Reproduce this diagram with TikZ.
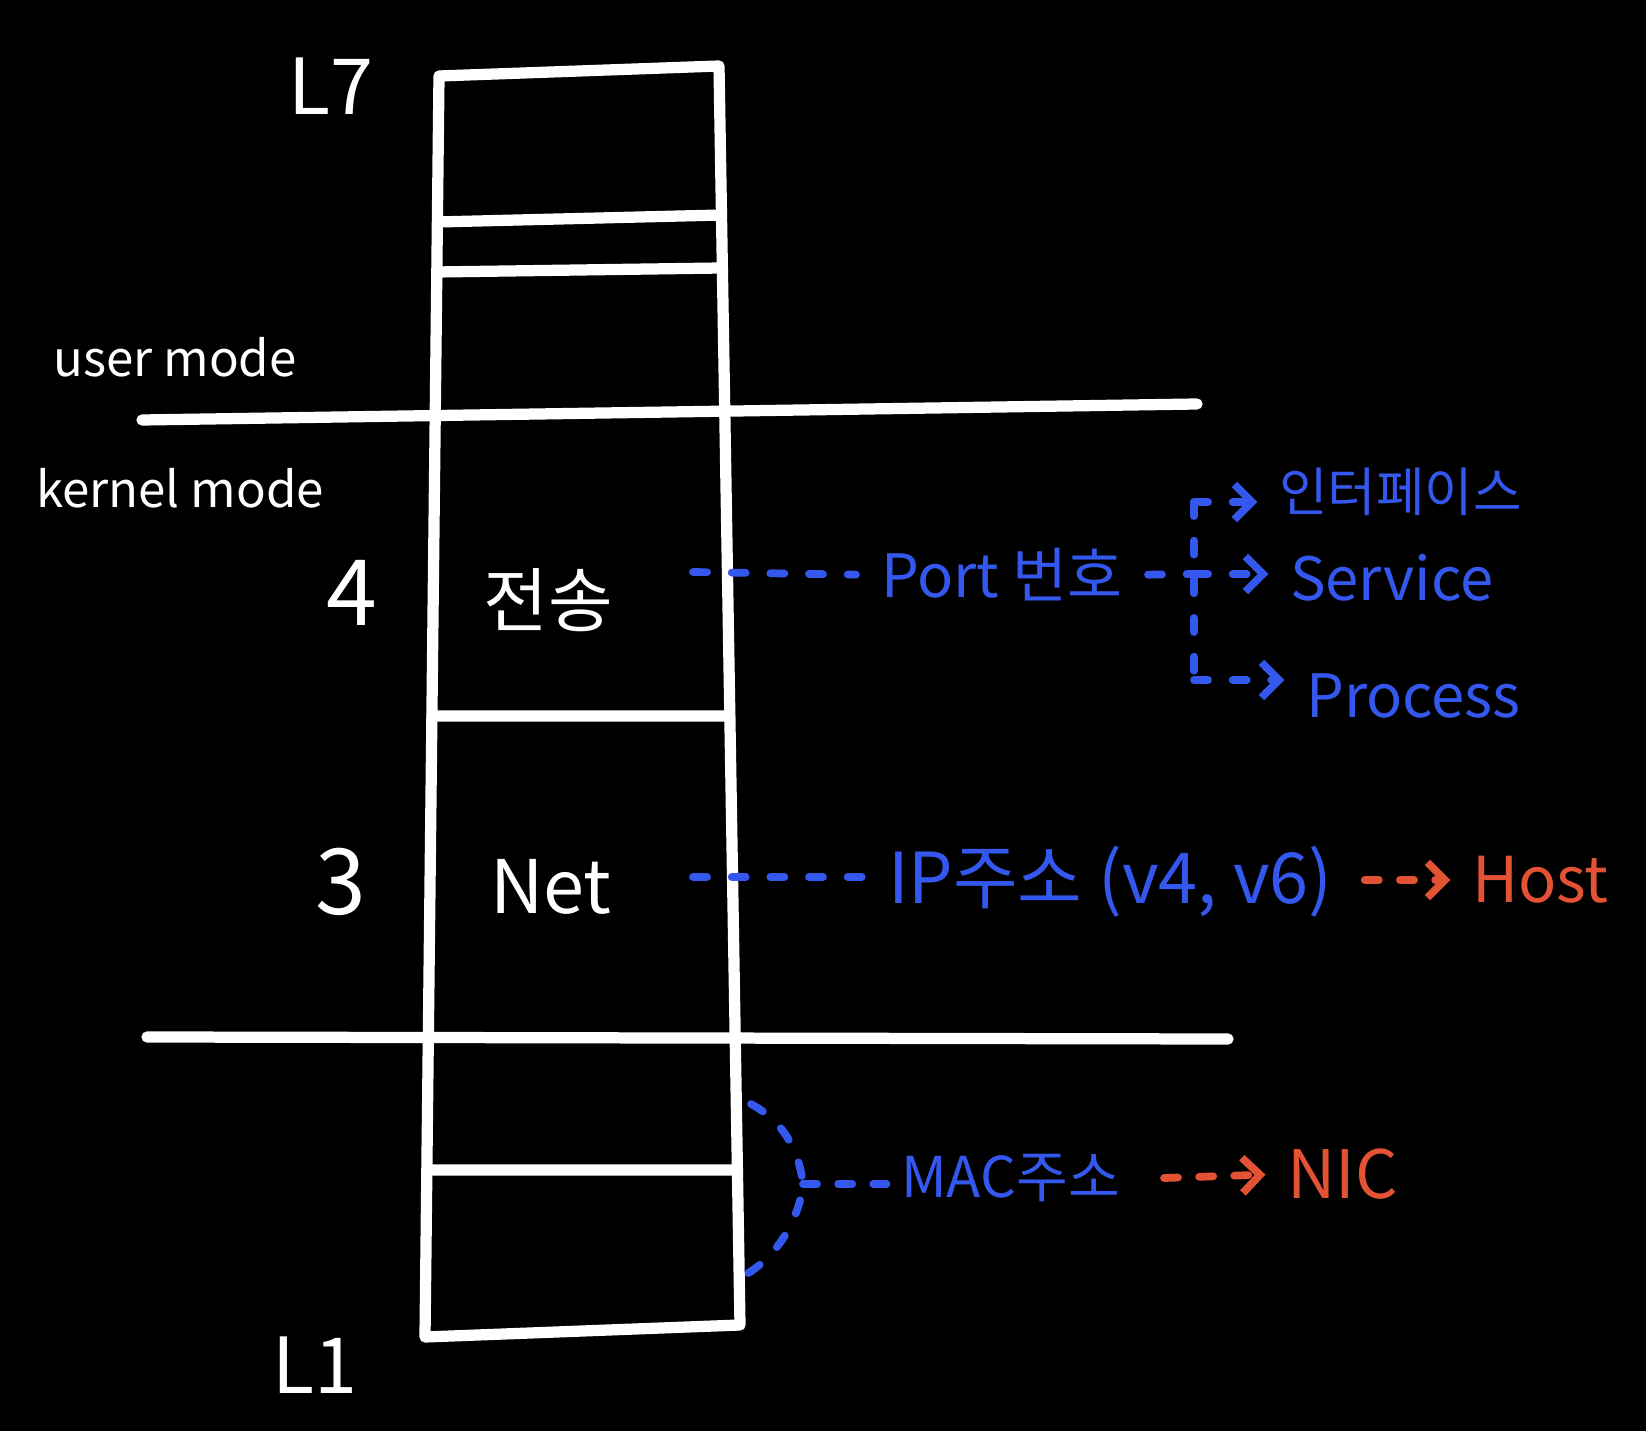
\documentclass[tikz,border=0pt]{standalone}
\usepackage{fontspec}
\setmainfont{Noto Sans CJK KR}
\usetikzlibrary{arrows.meta, positioning, calc}

\definecolor{chalkblue}{RGB}{52,88,238}
\definecolor{chalkred}{RGB}{228,82,52}

\tikzset{
  chalk/.style={white, line width=3.2pt, line cap=round, line join=round},
  whitelbl/.style={text=white, inner sep=1pt},
  bluelbl/.style={text=chalkblue, inner sep=1pt, anchor=west},
  redlbl/.style={text=chalkred, inner sep=1pt, anchor=west},
  bluedash/.style={chalkblue, line width=2.2pt, line cap=round, dash pattern=on 4pt off 7pt},
  reddash/.style={chalkred, line width=2.2pt, line cap=round, dash pattern=on 4pt off 6pt},
  barb/.style={-{Straight Barb[length=5pt, width=10pt, line width=2.2pt]}, shorten >=5pt},
}
\newcommand{\fs}[1]{\fontsize{#1}{#1}\selectfont}

\begin{document}
\begin{tikzpicture}[x=0.1mm, y=-0.1mm]
  \useasboundingbox (0,0) rectangle (1646,1431);
  \fill[black] (0,0) rectangle (1646,1431);

  % Layer stack
  \coordinate (tl) at (439,76);
  \coordinate (tr) at (719,66);
  \coordinate (br) at (740,1325);
  \coordinate (bl) at (425,1337);
  \draw[chalk] (tl) -- (tr) -- (br) -- (bl) -- cycle;

  % Layer borders
  \foreach \yl/\yr in {222/215, 272/268, 716/716, 1170/1170} {
    \draw[chalk] ($(tl)!{(\yl-76)/1261}!(bl)$) -- ($(tr)!{(\yr-66)/1259}!(br)$);
  }

  % Mode borders
  \draw[chalk] (142,420) -- (1197,404);
  \draw[chalk] (147,1037) -- (1228,1039);

  % White labels
  \node[whitelbl, font=\fs{22}] (top) at (331,86) {L7};
  \node[whitelbl, font=\fs{22}] (bottom) at (315,1365) {L1};
  \node[whitelbl, font=\fs{14}] (user) at (175,357) {user mode};
  \node[whitelbl, font=\fs{14}] (kernel) at (180,488) {kernel mode};
  \node[whitelbl, font=\fs{26}] (four) at (352,593) {4};
  \node[whitelbl, font=\fs{26}] (three) at (341,882) {3};
  \node[whitelbl, font=\fs{20}] (transport) at (548,600) {전송};
  \node[whitelbl, font=\fs{21}] (net) at (551,887) {Net};

  % Transport layer
  \coordinate (p4) at (693,572);
  \node[bluelbl, font=\fs{17}] (port) at (877,575) {Port 번호};
  \draw[bluedash, shorten >=6pt] (p4) -- (port.west);
  \coordinate (fork) at (1194,574);
  \coordinate (forktop) at (1194,502);
  \coordinate (forkbot) at (1194,680);
  \draw[bluedash, shorten <=6pt] (port.east) -- (fork);
  \draw[bluedash] (forktop) -- (forkbot);
  \node[bluelbl, font=\fs{15}] (iface) at (1275,492) {인터페이스};
  \node[bluelbl, font=\fs{17}] (service) at (1286,578) {Service};
  \node[bluelbl, font=\fs{17}] (process) at (1302,696) {Process};
  \draw[bluedash, barb] (forktop) -- (iface.west |- forktop);
  \draw[bluedash, barb] (fork) -- (service.west |- fork);
  \draw[bluedash, barb] (forkbot) -- (process.west |- forkbot);

  % Network layer
  \coordinate (p3) at (693,877);
  \node[bluelbl, font=\fs{20}] (ip) at (884,882) {IP주소 (v4, v6)};
  \draw[bluedash, shorten >=4pt] (p3) -- (p3 -| ip.west);
  \node[redlbl, font=\fs{18}] (host) at (1468,880) {Host};
  \draw[reddash, barb, shorten <=8pt] (ip.east |- host) -- (host.west);

  % Link layer
  \coordinate (l2top) at (751,1104);
  \coordinate (l2mid) at (803,1184);
  \coordinate (l2bot) at (745,1275);
  \draw[bluedash] (l2top) .. controls (790,1125) and (800,1160) .. (l2mid)
    .. controls (800,1215) and (780,1255) .. (l2bot);
  \node[bluelbl, font=\fs{16}] (mac) at (897,1178) {MAC주소};
  \draw[bluedash, dash pattern=on 4pt off 6pt, shorten >=3pt] (l2mid) -- (mac.west |- l2mid);
  \node[redlbl, font=\fs{19}] (nic) at (1283,1174) {NIC};
  \draw[reddash, barb] ($(mac.east)+(40,0)$) -- (nic.west);
\end{tikzpicture}
\end{document}
